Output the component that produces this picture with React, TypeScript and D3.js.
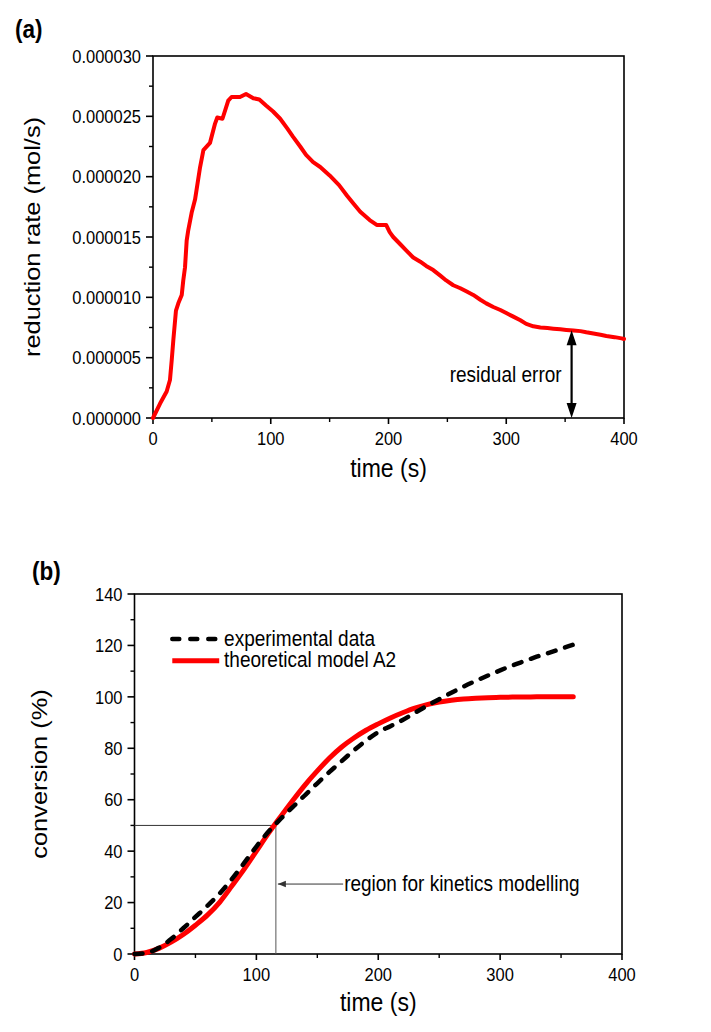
import * as d3 from "d3";
import React from "react";

// panel (a): reduction rate, values in 1e-6 mol/s
const rateTime = [0, 6, 11.6, 14.4, 15.9, 17.3, 19.5, 21.5, 24.4, 25.7, 27.2, 28.6, 30, 32.8, 35.7, 40, 42.8, 48.4, 52.7, 54.6, 59, 63.9, 66.7, 73.9, 79, 85.2, 90.3, 96, 102, 108, 114, 119, 125, 130, 136, 142, 150, 158, 165, 170, 176, 184, 190, 198, 201, 204, 210, 215, 221, 227, 232, 238, 244, 249, 255, 261, 266, 272, 278, 283, 289, 295, 300, 306, 312, 317, 323, 329, 335, 340, 346, 351, 357, 363, 368, 374, 380, 385, 392, 398, 400];
const rateValue = [0, 1.2, 2.2, 3.15, 4.8, 6.5, 8.9, 9.5, 10.2, 11.4, 12.5, 14.7, 15.6, 17.0, 18.1, 20.8, 22.2, 22.8, 24.4, 24.9, 24.8, 26.3, 26.6, 26.6, 26.85, 26.5, 26.4, 25.9, 25.4, 24.8, 24.0, 23.3, 22.5, 21.8, 21.2, 20.8, 20.1, 19.3, 18.4, 17.8, 17.1, 16.4, 16.0, 16.0, 15.4, 15.0, 14.4, 13.9, 13.3, 12.95, 12.6, 12.26, 11.8, 11.4, 11.0, 10.75, 10.5, 10.2, 9.8, 9.5, 9.2, 8.95, 8.7, 8.4, 8.1, 7.8, 7.6, 7.5, 7.45, 7.4, 7.35, 7.3, 7.25, 7.2, 7.1, 7.0, 6.9, 6.8, 6.7, 6.6, 6.55];
const rateTicks = [0, 5, 10, 15, 20, 25, 30];
const rateMinor = [2.5, 7.5, 12.5, 17.5, 22.5, 27.5];

// panel (b): conversion (%)
const convTime = [0, 10, 20, 30, 40, 50, 60, 70, 80, 90, 100, 110, 120, 130, 140, 150, 160, 170, 180, 190, 200, 210, 220, 230, 240, 250, 260, 270, 280, 290, 300, 310, 320, 330, 340, 350, 360];
const expConversion = [0, 0.4, 2.4, 5.8, 10.0, 14.4, 18.8, 23.6, 29.2, 35.4, 41.8, 47.6, 52.6, 57.2, 61.8, 66.4, 70.8, 75.0, 79.2, 83.0, 86.3, 88.6, 91.0, 93.8, 96.5, 99.1, 101.6, 104.0, 106.2, 108.3, 110.3, 112.2, 113.9, 115.6, 117.1, 118.7, 120.3];
const modelConversion = [0, 0.6, 2.2, 4.6, 7.6, 11.2, 15.2, 20.2, 26.5, 33.0, 40.0, 47.0, 53.5, 59.8, 65.8, 71.2, 76.2, 80.5, 84.0, 87.0, 89.5, 91.8, 93.8, 95.6, 97.0, 98.0, 98.7, 99.2, 99.5, 99.7, 99.8, 99.9, 99.9, 100, 100, 100, 100];
const convTicks = [0, 20, 40, 60, 80, 100, 120, 140];
const convMinor = [10, 30, 50, 70, 90, 110, 130];

const timeTicks = [0, 100, 200, 300, 400];
const timeMinor = [50, 150, 250, 350];

const residualTime = 355.5;
const regionTime = 116;
const regionLevel = 50;

const FONT = "'Liberation Sans', Arial, sans-serif";
const SY = 1.13; // the source picture is a bit taller than wide, text included

// text with the slight vertical stretch of the original
const T = ({ x, y, rotate = false, children, ...rest }) => (
  <text
    transform={`translate(${x},${y}) scale(1,${SY})${rotate ? " rotate(-90)" : ""}`}
    fontFamily={FONT}
    {...rest}
  >
    {children}
  </text>
);

const Frame = ({ x, y, xTicks, xMinor, yTicks, yMinor, fmt }) => {
  const [x0, x1] = x.range();
  const [y0, y1] = y.range();
  return (
    <g>
      <rect x={x0} y={y1} width={x1 - x0} height={y0 - y1} fill="none" stroke="#000" strokeWidth={1.6} />
      {xTicks.map((t) => (
        <g key={"xt" + t}>
          <line x1={x(t)} x2={x(t)} y1={y0} y2={y0 + 6} stroke="#000" strokeWidth={1.6} />
          <T x={x(t)} y={y0 + 27} textAnchor="middle" fontSize={16.5}>{t}</T>
        </g>
      ))}
      {xMinor.map((t) => (
        <line key={"xm" + t} x1={x(t)} x2={x(t)} y1={y0} y2={y0 + 4} stroke="#000" strokeWidth={1.4} />
      ))}
      {yTicks.map((t) => (
        <g key={"yt" + t}>
          <line x1={x0 - 7} x2={x0} y1={y(t)} y2={y(t)} stroke="#000" strokeWidth={1.6} />
          <T x={x0 - 12} y={y(t)} dy="0.36em" textAnchor="end" fontSize={16.5}>{fmt(t)}</T>
        </g>
      ))}
      {yMinor.map((t) => (
        <line key={"ym" + t} x1={x0 - 4} x2={x0} y1={y(t)} y2={y(t)} stroke="#000" strokeWidth={1.4} />
      ))}
    </g>
  );
};

const App = () => {
  const width = 711;
  const height = 1032;

  // panel (a)
  const xA = d3.scaleLinear().domain([0, 400]).range([153, 624]);
  const yA = d3.scaleLinear().domain([0, 30]).range([418, 56]);
  const rateData = rateTime.map((t, i) => [t, rateValue[i]]);
  const rateLine = d3.line().x((d) => xA(d[0])).y((d) => yA(d[1]))(rateData);
  const residualValue = d3.scaleLinear().domain(rateTime).range(rateValue)(residualTime);
  const ax = xA(residualTime);
  const aTop = yA(residualValue);
  const aBot = yA(0);

  // panel (b)
  const xB = d3.scaleLinear().domain([0, 400]).range([134.5, 622]);
  const yB = d3.scaleLinear().domain([0, 140]).range([954, 594]);
  const lineB = d3.line().x((d) => xB(d[0])).y((d) => yB(d[1])).curve(d3.curveMonotoneX);
  const expPath = lineB(convTime.map((t, i) => [t, expConversion[i]]));
  const modelPath = lineB(convTime.map((t, i) => [t, modelConversion[i]]));
  const rx = xB(regionTime);
  const ry = yB(regionLevel);
  const arrowY = yB(27.2);

  return (
    <svg width={width} height={height} style={{ position: "absolute", left: 0, top: 0, background: "#fff" }}>
      {/* ---------- (a) ---------- */}
      <T x={15} y={38} fontSize={22.5} fontWeight="bold">(a)</T>
      <Frame x={xA} y={yA} xTicks={timeTicks} xMinor={timeMinor} yTicks={rateTicks} yMinor={rateMinor}
        fmt={(d) => (d * 1e-6).toFixed(6)} />
      <path d={rateLine} fill="none" stroke="#ff0000" strokeWidth={4} strokeLinejoin="round" strokeLinecap="round" />
      <line x1={ax} x2={ax} y1={aTop + 10} y2={aBot - 10} stroke="#000" strokeWidth={2.2} />
      <path d={`M${ax},${aTop} L${ax - 5},${aTop + 15} L${ax + 5},${aTop + 15} Z`} fill="#000" />
      <path d={`M${ax},${aBot} L${ax - 5},${aBot - 15} L${ax + 5},${aBot - 15} Z`} fill="#000" />
      <T x={ax - 10} y={yA(3)} textAnchor="end" fontSize={19}>residual error</T>
      <T x={(xA(0) + xA(400)) / 2} y={477} textAnchor="middle" fontSize={23}>time (s)</T>
      <T x={40} y={(yA(0) + yA(30)) / 2} rotate textAnchor="middle" fontSize={22.5}>
        reduction rate (mol/s)
      </T>

      {/* ---------- (b) ---------- */}
      <T x={32} y={580} fontSize={22.5} fontWeight="bold">(b)</T>
      <Frame x={xB} y={yB} xTicks={timeTicks} xMinor={timeMinor} yTicks={convTicks} yMinor={convMinor}
        fmt={(d) => String(d)} />
      <line x1={xB(0)} x2={rx} y1={ry} y2={ry} stroke="#333" strokeWidth={1} />
      <line x1={rx} x2={rx} y1={ry} y2={yB(0)} stroke="#555" strokeWidth={1} />
      <path d={modelPath} fill="none" stroke="#ff0000" strokeWidth={5} strokeLinecap="round" />
      <path d={expPath} fill="none" stroke="#000" strokeWidth={4.5} strokeDasharray="8 10" strokeLinecap="round" />
      <line x1={rx + 2} x2={xB(172) - 1} y1={arrowY} y2={arrowY} stroke="#333" strokeWidth={1} />
      <path d={`M${rx + 2},${arrowY} L${rx + 10},${arrowY - 3.2} L${rx + 10},${arrowY + 3.2} Z`} fill="#333" />
      <T x={xB(172)} y={yB(24.5)} fontSize={19}>region for kinetics modelling</T>

      {/* legend */}
      <line x1={xB(31)} x2={xB(69.5)} y1={yB(122.5)} y2={yB(122.5)} stroke="#000" strokeWidth={4.5} strokeDasharray="7 11" strokeLinecap="round" />
      <T x={xB(73.5)} y={yB(122.5) + 6.5} fontSize={19}>experimental data</T>
      <line x1={xB(31)} x2={xB(69.5)} y1={yB(114)} y2={yB(114)} stroke="#ff0000" strokeWidth={5} />
      <T x={xB(73.5)} y={yB(114) + 6.5} fontSize={19}>theoretical model A2</T>

      <T x={(xB(0) + xB(400)) / 2} y={1011} textAnchor="middle" fontSize={23}>time (s)</T>
      <T x={47} y={(yB(0) + yB(140)) / 2} rotate textAnchor="middle" fontSize={22.5}>
        conversion (%)
      </T>
    </svg>
  );
};

export default App;
